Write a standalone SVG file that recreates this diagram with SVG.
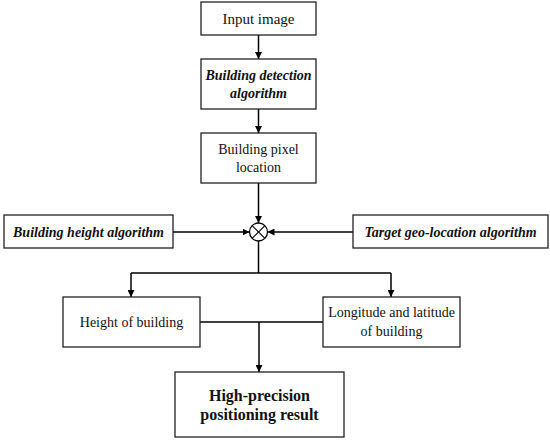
<svg xmlns="http://www.w3.org/2000/svg" width="550" height="441" viewBox="0 0 550 441">
<style>
.box{fill:#fff;stroke:#222;stroke-width:1.3}
.t{font-family:"Liberation Serif","Times New Roman",serif;font-size:14px;fill:#111;text-anchor:middle}
.bi{font-weight:bold;font-style:italic}
.b{font-weight:bold;font-size:16px}
.c{fill:none;stroke:#000;stroke-width:1.5}
</style>
<defs>
<marker id="ah" viewBox="0 0 10 10" refX="10" refY="5" markerWidth="7" markerHeight="7" markerUnits="userSpaceOnUse" orient="auto"><path d="M0,0 L10,5 L0,10 z" fill="#000"/></marker>
</defs>
<rect width="550" height="441" fill="#fff"/>
<g id="connectors">
<line class="c" x1="258.5" y1="35" x2="258.5" y2="59" marker-end="url(#ah)"/>
<line class="c" x1="258.5" y1="109" x2="258.5" y2="133" marker-end="url(#ah)"/>
<line class="c" x1="258.5" y1="183" x2="258.5" y2="223" marker-end="url(#ah)"/>
<line class="c" x1="173" y1="232" x2="249.5" y2="232" marker-end="url(#ah)"/>
<line class="c" x1="353" y1="232" x2="267.5" y2="232" marker-end="url(#ah)"/>
<line class="c" x1="258.5" y1="241" x2="258.5" y2="273"/>
<line class="c" x1="131" y1="273" x2="391" y2="273"/>
<line class="c" x1="131" y1="273" x2="131" y2="297" marker-end="url(#ah)"/>
<line class="c" x1="391" y1="273" x2="391" y2="297" marker-end="url(#ah)"/>
<line class="c" x1="200" y1="322" x2="323" y2="322"/>
<line class="c" x1="259" y1="322" x2="259" y2="372" marker-end="url(#ah)"/>
</g>
<g id="mix">
<circle cx="258.5" cy="232" r="9" fill="#fff" stroke="#000" stroke-width="1.3"/>
<line x1="252.1" y1="225.6" x2="264.9" y2="238.4" stroke="#000" stroke-width="1.2"/>
<line x1="264.9" y1="225.6" x2="252.1" y2="238.4" stroke="#000" stroke-width="1.2"/>
</g>
<g id="input">
<rect class="box" x="201" y="2" width="115" height="33"/>
<text class="t" x="258.5" y="24" style="font-size:15px">Input image</text>
</g>
<g id="detection">
<rect class="box" x="201" y="59" width="115" height="50"/>
<text class="t bi" x="258.5" y="80">Building detection</text>
<text class="t bi" x="258.5" y="98">algorithm</text>
</g>
<g id="pixel">
<rect class="box" x="201" y="133" width="115" height="50"/>
<text class="t" x="258.5" y="154">Building pixel</text>
<text class="t" x="258.5" y="172">location</text>
</g>
<g id="heightalg">
<rect class="box" x="4" y="215" width="169" height="33"/>
<text class="t bi" x="88.5" y="237">Building height algorithm</text>
</g>
<g id="geoalg">
<rect class="box" x="353" y="215" width="195" height="33"/>
<text class="t bi" x="450.5" y="237">Target geo-location algorithm</text>
</g>
<g id="height">
<rect class="box" x="63" y="297" width="137" height="50"/>
<text class="t" x="131.5" y="327">Height of building</text>
</g>
<g id="lonlat">
<rect class="box" x="323" y="297" width="137" height="50"/>
<text class="t" x="391.5" y="317">Longitude and latitude</text>
<text class="t" x="391.5" y="336">of building</text>
</g>
<g id="result">
<rect class="box" x="175" y="372" width="169" height="65"/>
<text class="t b" x="259.5" y="401">High-precision</text>
<text class="t b" x="259.5" y="420">positioning result</text>
</g>
</svg>
